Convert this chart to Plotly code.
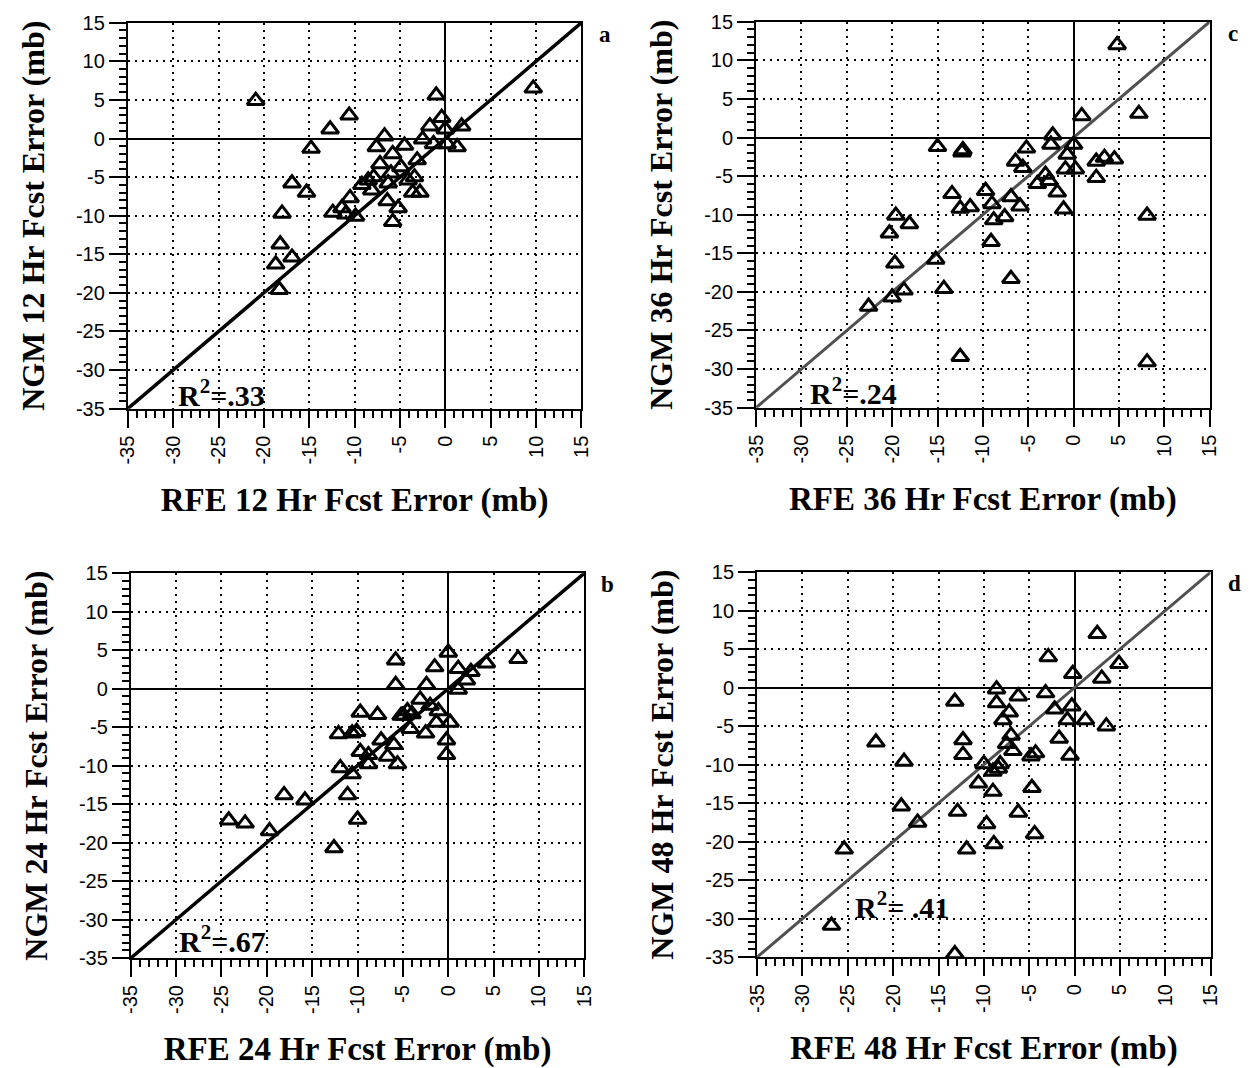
import plotly.graph_objects as go

W, H = 1255, 1068
AXIS_MIN, AXIS_MAX = -35, 15
TICK_VALUES = list(range(-35, 16, 5))
TICK_TEXT = [str(v) for v in TICK_VALUES]

# Panel a: 12 Hr
a_rfe = [-20.9, -1.0, 9.7, -10.6, -12.7, -14.8, -16.9, -15.3, -18.0, -18.2, -16.9, -18.7, -18.3,
         -12.4, -11.4, -10.5, -9.9, -9.2, -7.9, -8.1, -7.2, -7.6, -6.7, -5.8, -6.0, -6.3, -6.4,
         -5.2, -5.8, -4.5, -3.4, -3.1, -3.6, -2.8, -2.5, -1.7, -0.4, -1.3, 0.2, 1.3, 1.8, 0.0,
         -4.9, -4.1, -8.5, -11.0]
a_ngm = [4.9, 5.6, 6.5, 3.0, 1.2, -1.3, -5.8, -7.0, -9.7, -13.7, -15.4, -16.3, -19.6,
         -9.6, -9.0, -7.7, -10.1, -6.0, -5.0, -6.7, -3.3, -1.1, 0.3, -2.0, -4.5, -5.8, -8.1,
         -9.0, -10.8, -0.9, -5.0, -2.8, -7.0, -7.0, -0.1, 1.6, 2.7, -0.7, -0.7, -1.1, 1.6, 1.2,
         -3.7, -5.4, -5.4, -9.8]

# Panel c: 36 Hr
c_rfe = [4.8, 0.9, 7.2, -2.3, -2.5, -5.2, -15.0, -12.2, -12.3, -6.4, -5.6, 0.0, -0.7, -0.9,
         0.2, 2.5, 3.4, 4.5, 2.5, -3.1, -4.0, -2.7, -1.8, -1.1, -13.4, -9.7, -12.5, -11.4,
         -9.0, -6.9, -5.9, -8.8, -7.6, -19.6, -18.1, -20.3, -9.1, -19.7, -15.2, -6.9, -14.3,
         -18.7, -20.0, -22.6, -12.5, 8.1, 8.1]
c_ngm = [12.0, 2.8, 3.1, 0.3, -0.9, -1.4, -1.2, -1.6, -1.9, -3.1, -3.9, -0.9, -2.2, -4.1,
         -4.1, -3.1, -2.6, -2.8, -5.2, -4.8, -6.0, -5.6, -7.1, -9.3, -7.3, -6.9, -9.2, -9.0,
         -8.6, -7.7, -8.9, -10.7, -10.3, -10.1, -11.2, -12.4, -13.5, -16.3, -15.8, -18.3,
         -19.6, -19.8, -20.7, -21.9, -28.4, -10.1, -29.1]

# Panel b: 24 Hr
b_rfe = [0.0, -5.8, -1.5, 7.7, 4.2, 1.1, 2.5, 2.0, 1.1, -5.8, -2.4, -3.1, -4.5, -5.2, -4.0,
         -2.0, -1.1, -1.3, 0.2, -4.2, -2.5, -0.2, -0.2, -9.7, -7.8, -12.1, -10.6, -10.1,
         -7.4, -6.0, -9.7, -8.8, -6.7, -5.6, -11.9, -10.6, -8.8, -18.1, -15.8, -11.1, -10.0,
         -24.2, -22.4, -19.7, -12.6, -4.9]
b_ngm = [4.7, 3.7, 2.8, 3.9, 3.3, 2.6, 2.2, 1.1, -0.1, 0.5, 0.5, -1.4, -2.9, -3.5, -3.3,
         -2.2, -2.9, -4.4, -4.4, -5.2, -5.8, -6.7, -8.6, -3.1, -3.4, -5.9, -5.8, -5.6,
         -6.7, -7.3, -8.2, -8.6, -8.8, -9.8, -10.3, -11.1, -9.8, -13.8, -14.5, -13.8, -17.0,
         -17.1, -17.5, -18.5, -20.7, -3.5]

# Panel d: 48 Hr
d_rfe = [2.5, -2.9, 4.9, -0.2, 3.0, -8.6, -6.2, -3.2, -13.2, -8.6, -7.2, -7.9, -2.2, -0.3,
         -0.8, 1.2, 3.5, -12.3, -12.3, -7.0, -6.8, -1.7, -0.5, -4.8, -4.3, -21.9, -18.8,
         -10.0, -8.2, -9.0, -10.6, -9.0, -4.7, -19.1, -12.9, -6.2, -17.3, -9.7, -4.4, -11.9,
         -8.9, -25.4, -26.8, -13.2, -7.5, -8.4]
d_ngm = [7.0, 4.0, 3.1, 1.8, 1.2, -0.2, -1.1, -0.7, -1.8, -2.0, -3.2, -4.2, -2.8, -2.4,
         -4.2, -4.2, -5.0, -6.8, -8.7, -6.2, -8.2, -6.6, -8.8, -8.9, -8.5, -7.1, -9.6,
         -9.9, -9.9, -10.9, -12.4, -13.5, -13.0, -15.4, -16.1, -16.2, -17.5, -17.7, -19.0,
         -21.0, -20.3, -21.0, -30.9, -34.6, -7.3, -10.5]

panels = [
    dict(hr="12", x=a_rfe, y=a_ngm, r2="R<sup>2</sup>=.33", r2pos=(-24.7, -33.0), letter="a",
         px=(118, 580), py=(12, 406), line="black", lw=3.5),
    dict(hr="36", x=c_rfe, y=c_ngm, r2="R<sup>2</sup>=.24", r2pos=(-24.3, -32.8), letter="c",
         px=(758, 1220), py=(11, 405), line="#505050", lw=3),
    dict(hr="24", x=b_rfe, y=b_ngm, r2="R<sup>2</sup>=.67", r2pos=(-24.9, -32.5), letter="b",
         px=(121, 583), py=(574, 967), line="black", lw=3.5),
    dict(hr="48", x=d_rfe, y=d_ngm, r2="R<sup>2</sup>= .41", r2pos=(-19.0, -28.2), letter="d",
         px=(759, 1221), py=(573, 966), line="#505050", lw=3),
]

fig = go.Figure()
SERIF = "Liberation Serif"
SANS = "Liberation Sans"
annotations = []

for i, p in enumerate(panels, start=1):
    xa = "x" if i == 1 else f"x{i}"
    ya = "y" if i == 1 else f"y{i}"
    xkey = "xaxis" if i == 1 else f"xaxis{i}"
    ykey = "yaxis" if i == 1 else f"yaxis{i}"
    x0, x1 = p["px"]
    y0, y1 = p["py"]
    # diagonal 1:1 line
    fig.add_trace(go.Scatter(x=[AXIS_MIN, AXIS_MAX], y=[AXIS_MIN, AXIS_MAX], mode="lines",
                             line=dict(color=p["line"], width=p["lw"]), xaxis=xa, yaxis=ya,
                             showlegend=False, hoverinfo="skip"))
    fig.add_trace(go.Scatter(x=p["x"], y=p["y"], mode="markers",
                             marker=dict(symbol="triangle-up-open", size=15, color="black",
                                         line=dict(width=3, color="black")),
                             xaxis=xa, yaxis=ya, showlegend=False))
    common = dict(range=[AXIS_MIN, AXIS_MAX], tickvals=TICK_VALUES, ticktext=TICK_TEXT,
                  showgrid=True, gridcolor="black", griddash="2px,5px", gridwidth=1.5,
                  zeroline=True, zerolinecolor="black", zerolinewidth=1.8,
                  showline=True, linecolor="black", linewidth=2, mirror=True,
                  ticks="outside", ticklen=17, tickwidth=2, tickcolor="black",
                  minor=dict(dtick=1, ticks="outside", ticklen=7, tickwidth=1.6,
                             tickcolor="black", showgrid=False),
                  tickfont=dict(family=SANS, size=20, color="black"), fixedrange=True)
    fig.update_layout({
        xkey: dict(common, domain=[x0 / W, x1 / W], anchor=ya, tickangle=-90,
                   title=dict(text=f"RFE {p['hr']} Hr Fcst Error (mb)", standoff=24,
                              font=dict(family=SERIF, size=33, color="black", weight="bold"))),
        ykey: dict(common, domain=[1 - y1 / H, 1 - y0 / H], anchor=xa,
                   title=dict(text=f"NGM {p['hr']} Hr Fcst Error (mb)", standoff=22,
                              font=dict(family=SERIF, size=32, color="black", weight="bold"))),
    })
    annotations.append(dict(x=p["r2pos"][0], y=p["r2pos"][1], xref=xa, yref=ya, text=p["r2"],
                            showarrow=False, font=dict(family=SERIF, size=30, color="black",
                                                       weight="bold")))
    annotations.append(dict(x=(x1 + 24) / W, y=1 - (y0 + 12) / H, xref="paper", yref="paper",
                            xanchor="center", yanchor="middle",
                            text=p["letter"], showarrow=False,
                            font=dict(family=SERIF, size=23, color="black", weight="bold")))

fig.update_layout(width=W, height=H, margin=dict(l=0, r=0, t=0, b=0),
                  paper_bgcolor="white", plot_bgcolor="white", annotations=annotations)

fig.write_html("out.html")
